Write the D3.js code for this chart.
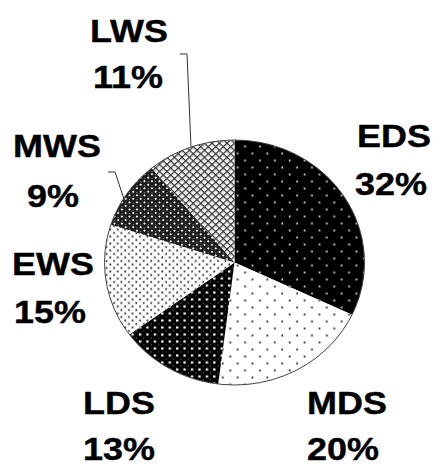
<!DOCTYPE html>
<html><head><meta charset="utf-8">
<script src="https://cdn.jsdelivr.net/npm/d3@7"></script>
<style>body{margin:0;background:#fff}svg{display:block}</style>
</head><body>
<script>
const categories = ["EDS","MDS","LDS","EWS","MWS","LWS"];
const values = [32,20,13,15,9,11];
const pctLabels = ["32%","20%","13%","15%","9%","11%"];

const W = 433, H = 466;
const cx = 234.5, cy = 262.5, ry = 122.5, sx = 130/122.5;

const svg = d3.select("body").append("svg").attr("width",W).attr("height",H);
const defs = svg.append("defs");

function pat(id, size, bg, fg, dots, r, extra, rot){
  const p = defs.append("pattern").attr("id",id).attr("patternUnits","userSpaceOnUse")
    .attr("width",size).attr("height",size);
  if (rot) p.attr("patternTransform",`rotate(${rot})`);
  p.append("rect").attr("width",size).attr("height",size).attr("fill",bg);
  if (extra) extra(p);
  dots.forEach(d=>p.append("rect").attr("x",d[0]-r).attr("y",d[1]-r).attr("width",2*r).attr("height",2*r).attr("fill",fg));
  return p;
}
pat("pEDS", 14, "#000", "#fff", [[3,3],[10,10]], 0.8);
pat("pMDS", 14, "#fff", "#000", [[3,3],[10,10]], 0.8);
pat("pLDS", 7, "#000", "#fff", [[2,2]], 1.1, p=>{
  p.append("rect").attr("x",5).attr("y",5).attr("width",1).attr("height",1).attr("fill","#888");
});
pat("pEWS", 7, "#fff", "#000", [[2,2],[5.5,5.5]], 0.8);
pat("pMWS", 5, "#1a1a1a", "#fff", [[2.5,2.5]], 0.9, p=>{
  p.append("rect").attr("x",0).attr("y",0).attr("width",1).attr("height",1).attr("fill","#999");
}, 45);
pat("pLWS", 5, "#fff", "#000", [], 0, p=>{
  p.append("rect").attr("x",0).attr("y",0).attr("width",5).attr("height",1.2).attr("fill","#333");
  p.append("rect").attr("x",0).attr("y",0).attr("width",1.2).attr("height",5).attr("fill","#333");
  p.append("rect").attr("x",2.2).attr("y",2.2).attr("width",0.8).attr("height",0.8).attr("fill","#777");
}, 45);

const pie = d3.pie().sort(null).value(d=>d)(values);
const arc = d3.arc().innerRadius(0).outerRadius(ry);

const g = svg.append("g").attr("transform",`translate(${cx},${cy}) scale(${sx},1)`);
g.selectAll("path").data(pie).join("path")
  .attr("d",arc)
  .attr("fill",(d,i)=>`url(#p${categories[i]})`)
  .attr("stroke","none");
g.append("ellipse").attr("rx",ry).attr("ry",ry).attr("fill","none")
  .attr("stroke","#444").attr("stroke-width",1).attr("vector-effect","non-scaling-stroke");

// label positions (left x, baseline y) for name line; percent line below
const labelPos = {
  EDS:[357,147,355,195],
  MDS:[307,414,307,460],
  LDS:[83,414,83,460],
  EWS:[12,275,14,323],
  MWS:[13,157,27,207],
  LWS:[90,42,93,88]
};
const labs = svg.append("g").attr("font-family","'Liberation Sans', Arial, sans-serif")
  .attr("font-weight","bold").attr("font-size",31).attr("fill","#000")
  .attr("stroke","#000").attr("stroke-width",0.4);
categories.forEach((c,i)=>{
  const p = labelPos[c];
  labs.append("text").attr("transform",`translate(${p[0]},${p[1]}) scale(1.16,1)`).text(c);
  labs.append("text").attr("transform",`translate(${p[2]},${p[3]}) scale(1.16,1)`).text(pctLabels[i]);
});

// leader lines
const leaders = [
  [[180,54],[187,54],[191,147]],
  [[108,172],[115,172],[125,202]]
];
svg.selectAll("path.leader").data(leaders).join("path").attr("class","leader")
  .attr("d",d3.line()).attr("fill","none").attr("stroke","#333").attr("stroke-width",1);
</script>
</body></html>
